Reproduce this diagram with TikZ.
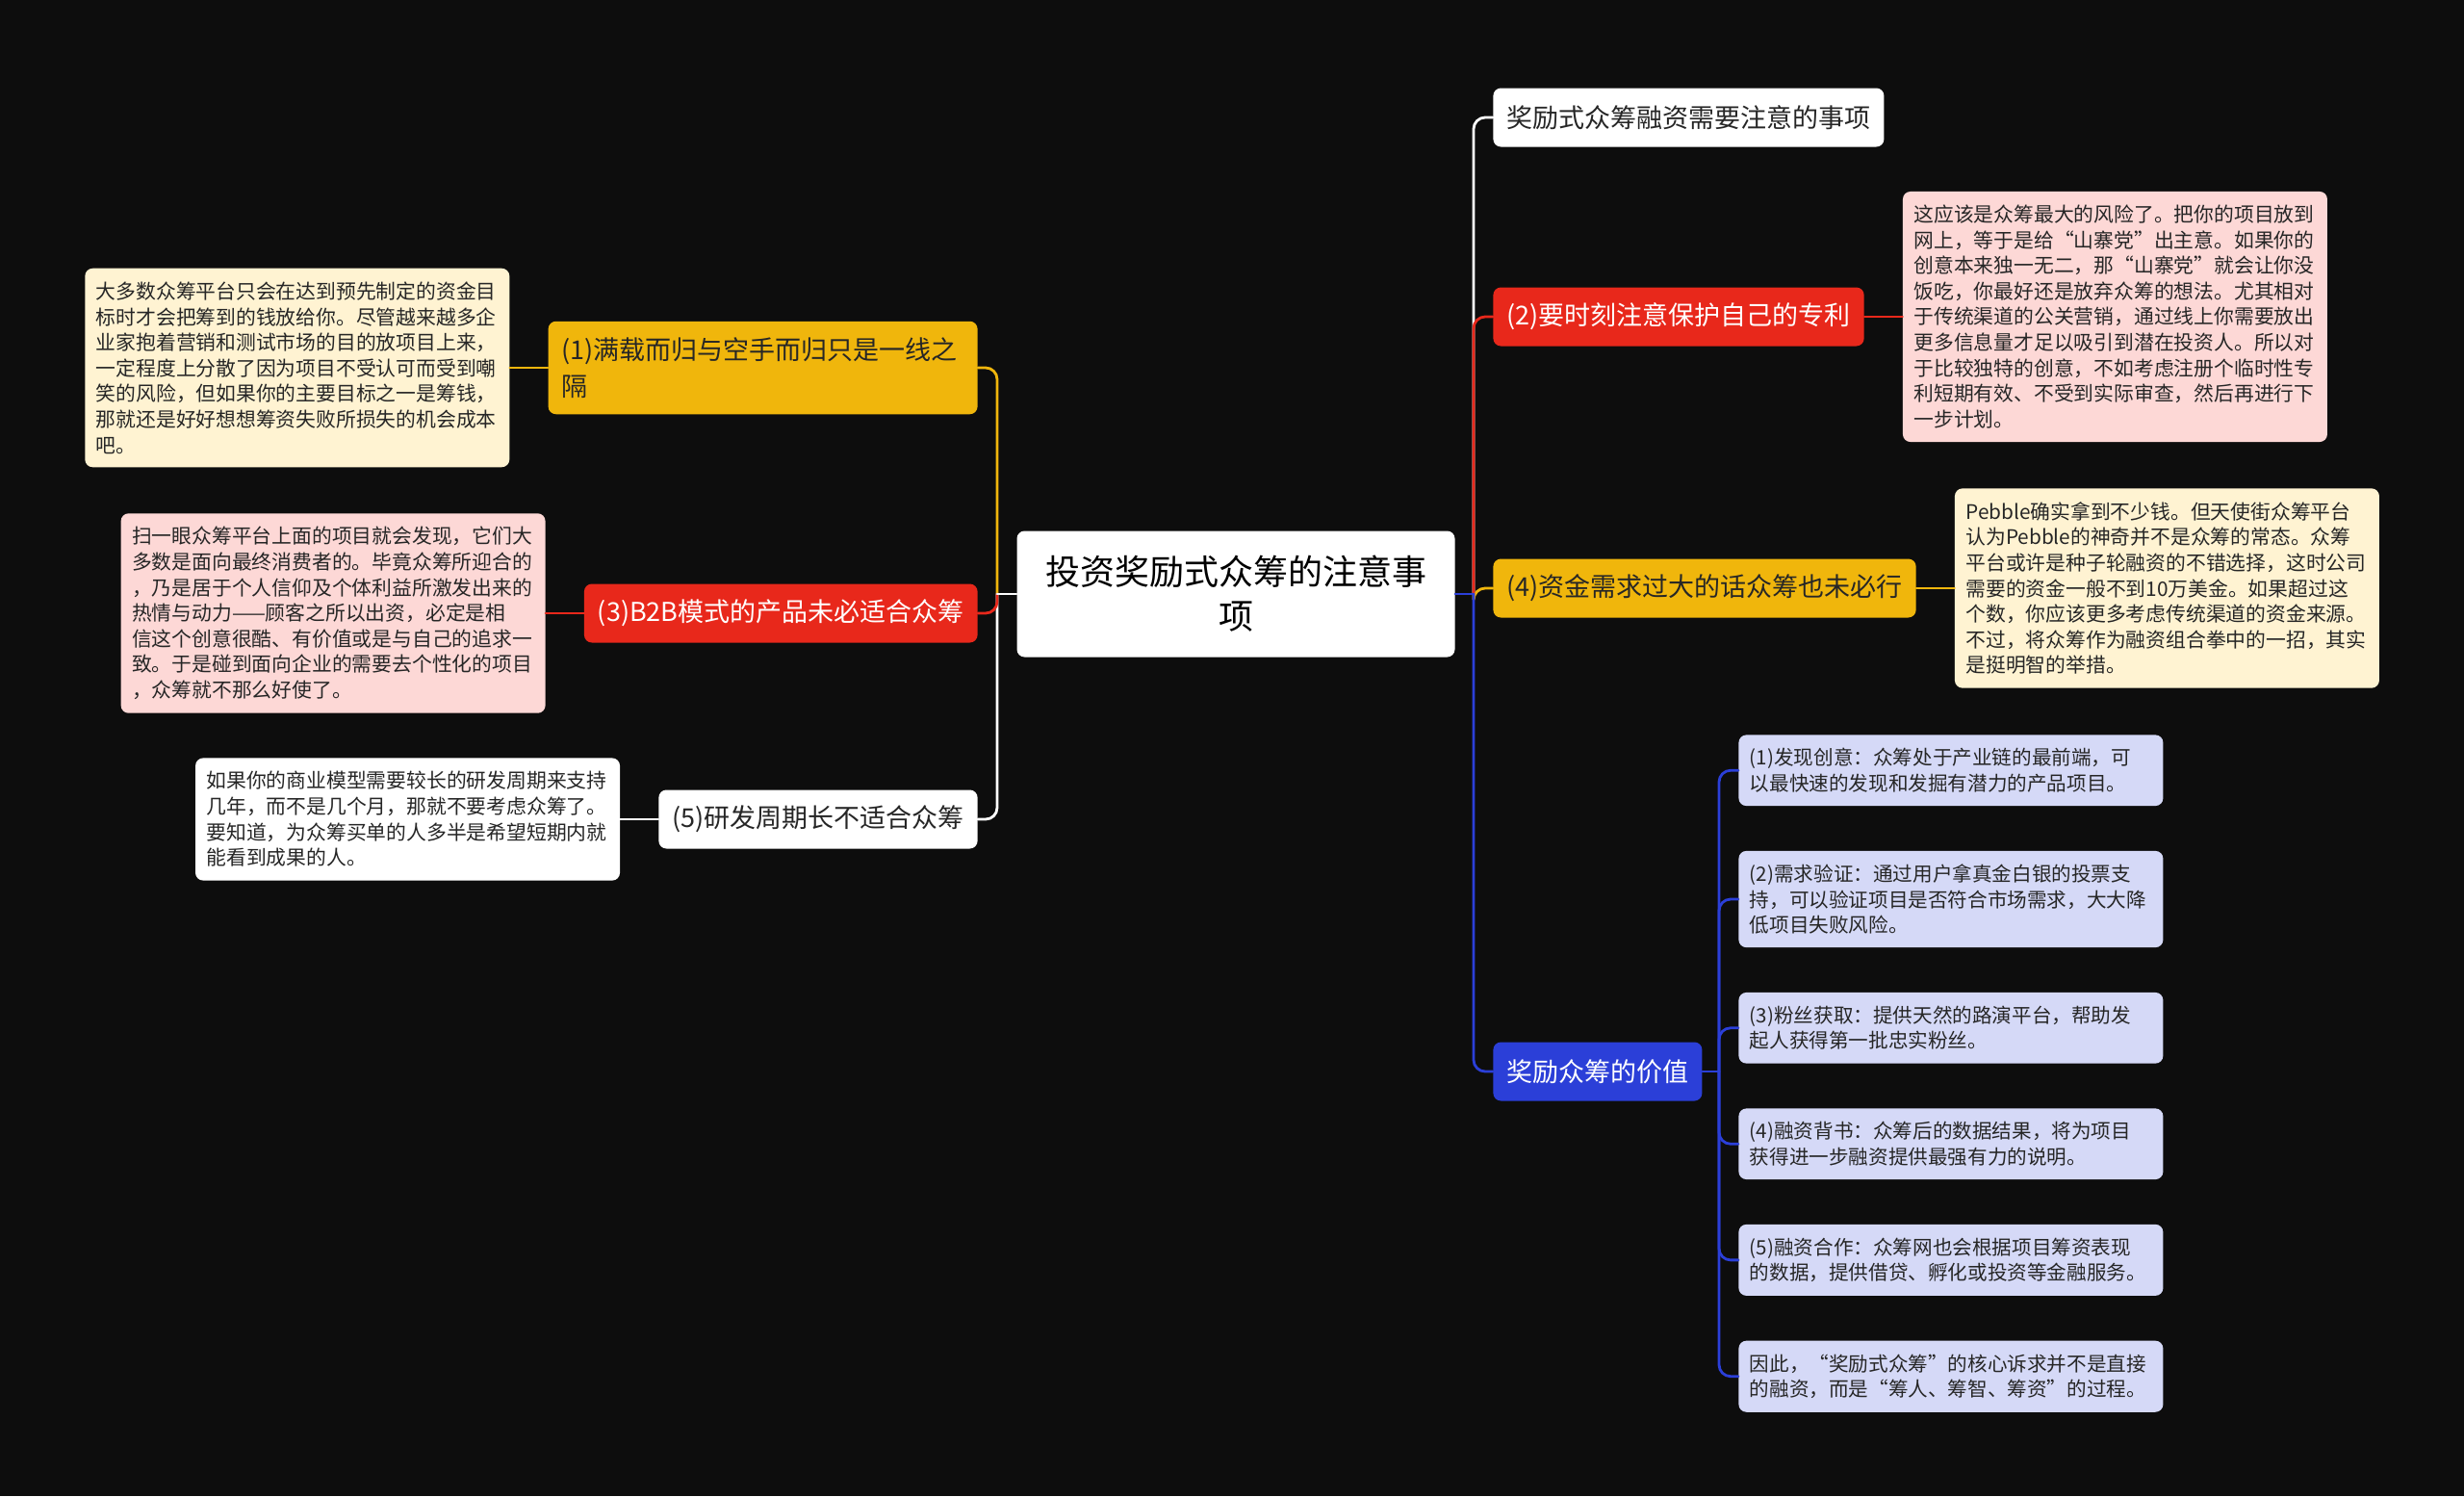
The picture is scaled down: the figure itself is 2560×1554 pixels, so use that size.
\documentclass[tikz,border=0pt]{standalone}
\usepackage{fontspec}
\setmainfont{Noto Sans CJK SC}
\usetikzlibrary{positioning}
\usepackage{xcolor}
\definecolor{BgBlack}{HTML}{0D0D0D}
\definecolor{BrYellow}{HTML}{F0B60C}
\definecolor{BrRed}{HTML}{E8281B}
\definecolor{BrBlue}{HTML}{2B3FD8}
\definecolor{NoteYellow}{HTML}{FFF3D2}
\definecolor{NotePink}{HTML}{FDD8D6}
\definecolor{NoteBlue}{HTML}{D5D9F7}
\definecolor{InkDark}{HTML}{262626}

\begin{document}
\begin{tikzpicture}[
  x=0.5pt, y=-0.5pt,
  rootbox/.style={rounded corners=4pt, fill=white, text=black, align=center,
                  minimum width=227.5pt, minimum height=65.5pt,
                  font=\fontsize{18pt}{23pt}\selectfont},
  branch/.style={rounded corners=4pt, inner xsep=7pt, minimum height=30.5pt,
                 text=InkDark, font=\fontsize{13.5pt}{18.75pt}\selectfont},
  note/.style={rounded corners=4pt, inner xsep=5.75pt, inner ysep=7pt,
               text width=209pt, align=left, text=InkDark,
               font=\fontsize{10.4pt}{13.3pt}\selectfont},
  valbox/.style={rounded corners=4pt, fill=NoteBlue, inner xsep=5.75pt, inner ysep=7pt,
                 text width=209pt, align=left, text=InkDark,
                 font=\fontsize{10.3pt}{13.2pt}\selectfont},
  conn/.style={line width=1.4pt, rounded corners=6pt, line cap=round},
  node distance=19.75pt
]
  \fill[BgBlack] (0,0) rectangle (2560,1554);
  \useasboundingbox (0,0) rectangle (2560,1554);

  \node[rootbox] (root) at (1284,617) {投资奖励式众筹的注意事\\项};
  \coordinate (lsp) at (1036,617);
  \coordinate (rsp) at (1531,617);

  % right side
  \node[branch, fill=white, anchor=west] (zhuyi) at (1551,122) {奖励式众筹融资需要注意的事项};
  \node[branch, fill=BrRed, text=white, anchor=west] (zhuanli) at (1551,329) {(2)要时刻注意保护自己的专利};
  \node[note, fill=NotePink, right=of zhuanli] (zhuanliN) {这应该是众筹最大的风险了。把你的项目放到\\网上，等于是给“山寨党”出主意。如果你的\\创意本来独一无二，那“山寨党”就会让你没\\饭吃，你最好还是放弃众筹的想法。尤其相对\\于传统渠道的公关营销，通过线上你需要放出\\更多信息量才足以吸引到潜在投资人。所以对\\于比较独特的创意，不如考虑注册个临时性专\\利短期有效、不受到实际审查，然后再进行下\\一步计划。};
  \node[branch, fill=BrYellow, anchor=west] (zijin) at (1551,611) {(4)资金需求过大的话众筹也未必行};
  \node[note, fill=NoteYellow, right=of zijin] (zijinN) {Pebble确实拿到不少钱。但天使街众筹平台\\认为Pebble的神奇并不是众筹的常态。众筹\\平台或许是种子轮融资的不错选择，这时公司\\需要的资金一般不到10万美金。如果超过这\\个数，你应该更多考虑传统渠道的资金来源。\\不过，将众筹作为融资组合拳中的一招，其实\\是挺明智的举措。};
  \node[branch, fill=BrBlue, text=white, anchor=west] (jiazhi) at (1551,1113) {奖励众筹的价值};
  \coordinate (vsp) at (1786,1113);

  \node[valbox, anchor=north west] (v1) at (1806,763) {(1)发现创意：众筹处于产业链的最前端，可\\以最快速的发现和发掘有潜力的产品项目。};
  \node[valbox, below=23pt of v1] (v2) {(2)需求验证：通过用户拿真金白银的投票支\\持，可以验证项目是否符合市场需求，大大降\\低项目失败风险。};
  \node[valbox, below=23pt of v2] (v3) {(3)粉丝获取：提供天然的路演平台，帮助发\\起人获得第一批忠实粉丝。};
  \node[valbox, below=23pt of v3] (v4) {(4)融资背书：众筹后的数据结果，将为项目\\获得进一步融资提供最强有力的说明。};
  \node[valbox, below=23pt of v4] (v5) {(5)融资合作：众筹网也会根据项目筹资表现\\的数据，提供借贷、孵化或投资等金融服务。};
  \node[valbox, below=23pt of v5] (v6) {因此，“奖励式众筹”的核心诉求并不是直接\\的融资，而是“筹人、筹智、筹资”的过程。};

  % left side
  \node[branch, fill=BrYellow, anchor=east, text width=209pt, align=left, inner ysep=8.5pt] (manzai) at (1016,382) {(1)满载而归与空手而归只是一线之\\隔};
  \node[note, fill=NoteYellow, left=of manzai] (manzaiN) {大多数众筹平台只会在达到预先制定的资金目\\标时才会把筹到的钱放给你。尽管越来越多企\\业家抱着营销和测试市场的目的放项目上来，\\一定程度上分散了因为项目不受认可而受到嘲\\笑的风险，但如果你的主要目标之一是筹钱，\\那就还是好好想想筹资失败所损失的机会成本\\吧。};
  \node[branch, fill=BrRed, text=white, anchor=east] (btob) at (1016,637) {(3)B2B模式的产品未必适合众筹};
  \node[note, fill=NotePink, left=of btob] (btobN) {扫一眼众筹平台上面的项目就会发现，它们大\\多数是面向最终消费者的。毕竟众筹所迎合的\\，乃是居于个人信仰及个体利益所激发出来的\\热情与动力——顾客之所以出资，必定是相\\信这个创意很酷、有价值或是与自己的追求一\\致。于是碰到面向企业的需要去个性化的项目\\，众筹就不那么好使了。};
  \node[branch, fill=white, anchor=east] (zhouqi) at (1016,851) {(5)研发周期长不适合众筹};
  \node[note, fill=white, left=of zhouqi] (zhouqiN) {如果你的商业模型需要较长的研发周期来支持\\几年，而不是几个月，那就不要考虑众筹了。\\要知道，为众筹买单的人多半是希望短期内就\\能看到成果的人。};

  % connectors
  \draw[conn, BrYellow] (lsp) |- (manzai.east);
  \draw[conn, white] (lsp) |- (zhouqi.east);
  \draw[conn, BrRed] (lsp) |- (btob.east);
  \draw[conn, white] (root.west) -- (lsp);

  \draw[conn, white] (rsp) |- (zhuyi.west);
  \draw[conn, BrYellow] (rsp) |- (zijin.west);
  \draw[conn, BrRed] (rsp) |- (zhuanli.west);
  \draw[conn, BrBlue] (rsp) |- (jiazhi.west);
  \draw[conn, BrBlue] (root.east) -- (rsp);

  \draw[conn, BrYellow] (manzaiN.east) -- (manzai.west);
  \draw[conn, BrRed] (btobN.east) -- (btob.west);
  \draw[conn, white] (zhouqiN.east) -- (zhouqi.west);
  \draw[conn, BrRed] (zhuanli.east) -- (zhuanliN.west);
  \draw[conn, BrYellow] (zijin.east) -- (zijinN.west);

  \draw[conn, BrBlue] (jiazhi.east) -- (vsp);
  \draw[conn, BrBlue] (vsp) |- (v1.west);
  \draw[conn, BrBlue] (vsp) |- (v2.west);
  \draw[conn, BrBlue] (vsp) |- (v3.west);
  \draw[conn, BrBlue] (vsp) |- (v4.west);
  \draw[conn, BrBlue] (vsp) |- (v5.west);
  \draw[conn, BrBlue] (vsp) |- (v6.west);
\end{tikzpicture}
\end{document}
